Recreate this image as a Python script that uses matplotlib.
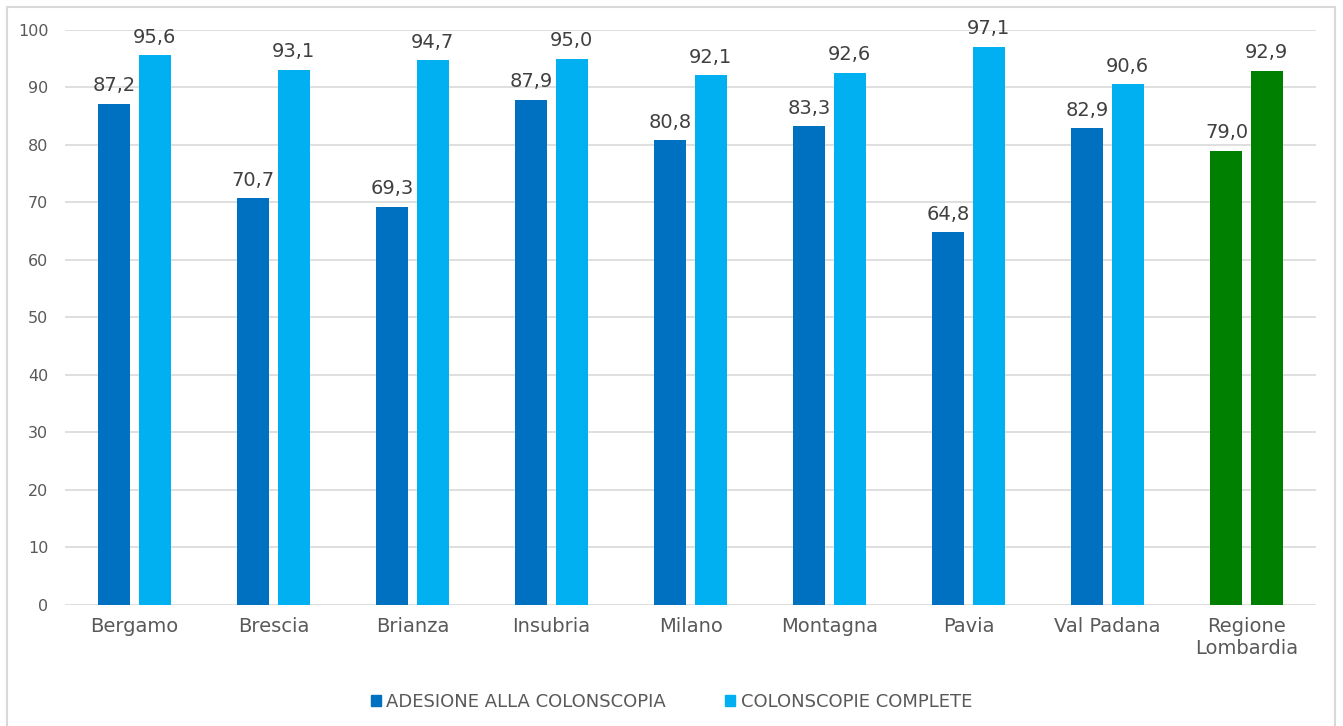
import matplotlib
matplotlib.use("Agg")
import matplotlib.pyplot as plt
from matplotlib.patches import Rectangle, Patch
import numpy as np

categories = ["Bergamo", "Brescia", "Brianza", "Insubria", "Milano",
              "Montagna", "Pavia", "Val Padana", "Regione\nLombardia"]
adesione = [87.2, 70.7, 69.3, 87.9, 80.8, 83.3, 64.8, 82.9, 79.0]
complete = [95.6, 93.1, 94.7, 95.0, 92.1, 92.6, 97.1, 90.6, 92.9]
series_names = ["ADESIONE ALLA COLONSCOPIA", "COLONSCOPIE COMPLETE"]
yticks = [0, 10, 20, 30, 40, 50, 60, 70, 80, 90, 100]

c_dark = "#0070C0"
c_light = "#00B0F0"
c_green = "#008000"
text_col = "#595959"
grid_col = "#D9D9D9"

plt.rcParams["font.family"] = ["DejaVu Sans"]

fig = plt.figure(figsize=(13.43, 7.26), dpi=100)
ax = fig.add_axes([0.0484, 0.1667, 0.9316, 0.792])

x = np.arange(len(categories))
w = 0.23
off = 0.145
cols1 = [c_dark] * (len(categories) - 1) + [c_green]
cols2 = [c_light] * (len(categories) - 1) + [c_green]
b1 = ax.bar(x - off, adesione, w, color=cols1, zorder=3)
b2 = ax.bar(x + off, complete, w, color=cols2, zorder=3)

for bars, vals in ((b1, adesione), (b2, complete)):
    for b, v in zip(bars, vals):
        ax.annotate(f"{v:.1f}".replace(".", ","),
                    (b.get_x() + b.get_width() / 2, v),
                    xytext=(0, 6), textcoords="offset points",
                    ha="center", va="bottom", fontsize=14, color="#404040")

ax.set_xlim(-0.5, len(categories) - 0.5)
ax.set_ylim(0, 100)
ax.set_yticks(yticks)
ax.set_yticklabels([str(t) for t in yticks], fontsize=11.5, color=text_col)
ax.set_xticks(x)
ax.set_xticklabels(categories, fontsize=14, color=text_col, linespacing=1.2)
ax.tick_params(axis="both", length=0)
ax.tick_params(axis="y", pad=12)
ax.tick_params(axis="x", pad=9)
ax.yaxis.grid(True, color=grid_col, linewidth=1.2, zorder=0)
ax.set_axisbelow(True)
for s in ax.spines.values():
    s.set_visible(False)

handles = [Patch(color=c_dark), Patch(color=c_light)]
fig.legend(handles, series_names, loc="center", bbox_to_anchor=(0.5, 0.033),
           ncol=2, frameon=False, fontsize=13, labelcolor=text_col,
           handlelength=0.55, handleheight=0.55, handletextpad=0.3,
           columnspacing=3.3)

fig.patches.append(Rectangle((7 / 1343, -0.01), 1328 / 1343, 1.0 - 7 / 726 + 0.01,
                             transform=fig.transFigure, fill=False,
                             edgecolor="#D9D9D9", linewidth=1.5))

fig.savefig("out.png", dpi=100)
